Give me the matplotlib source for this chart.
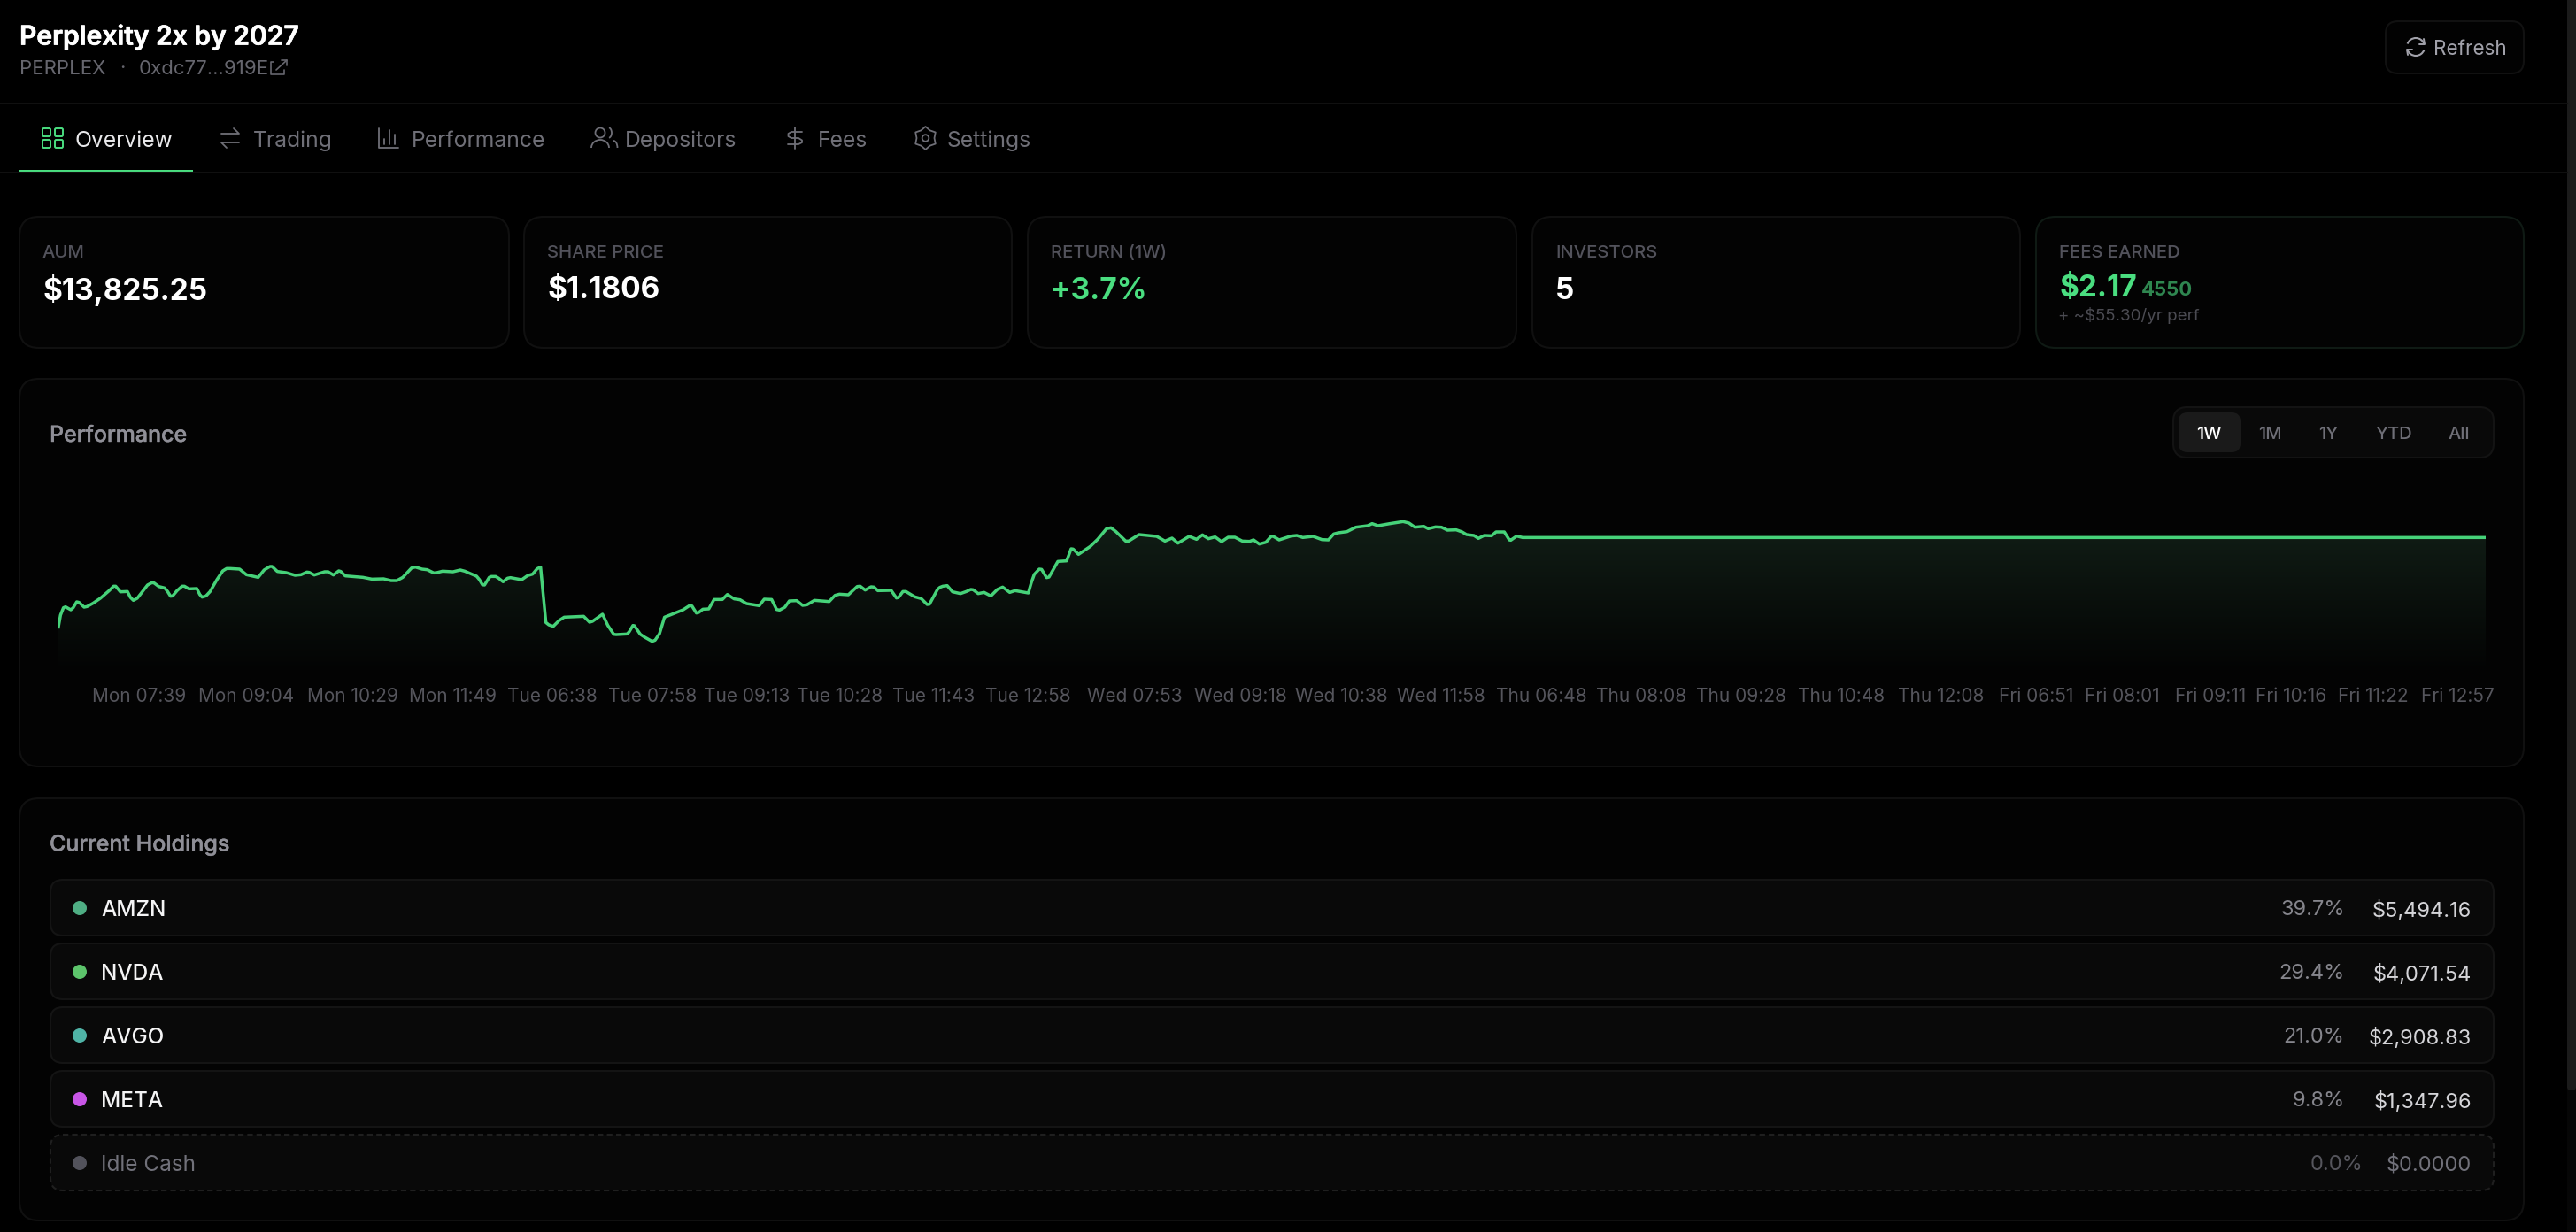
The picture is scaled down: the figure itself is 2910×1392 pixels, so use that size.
import numpy as np
import matplotlib
matplotlib.use("Agg")
import matplotlib.pyplot as plt
import matplotlib.patheffects as pe
from matplotlib.patches import FancyBboxPatch, Circle, Polygon, Arc, Rectangle
from matplotlib.colors import LinearSegmentedColormap

plt.rcParams['font.family'] = ['Inter', 'DejaVu Sans']

# performance line (position along the week, level on the chart)
perf_pos = [0, 7, 17, 24, 42, 50, 62, 70, 87, 97, 117, 142, 172, 187, 194, 210, 234, 244, 254, 267,
            287, 302, 317, 324, 340, 360, 370, 380, 387, 402, 419, 427, 442, 469, 479, 487, 500, 514, 537, 557,
            570, 582, 614, 637, 677, 697, 717, 724, 742, 772, 802, 822, 842, 850, 867, 902, 914, 932, 950, 957,
            972, 1032, 1062, 1102, 1127, 1147, 1167, 1197, 1210, 1232, 1250, 1272, 1282, 1302, 1337, 1362, 1377, 1417, 1427, 1437,
            1444, 1460, 1467, 1482, 1492, 1507, 1522, 1532, 1570, 1590, 1607, 1622, 1634, 1652, 1662, 1677, 1697, 1714, 1780, 1800,
            1810, 1844, 1862, 1882, 1890, 1927, 1934, 1947, 1952, 1972, 1987, 2012, 2022, 2037, 2054, 2072, 2117, 2140, 2147, 2162,
            2170, 2184, 2204, 2222, 2250, 2267, 2290, 2310, 2332, 2375, 2392, 2417, 2434, 2444, 2462, 2477, 2502, 2522, 2537, 2562,
            2612, 2632, 2647, 2677, 2707, 2717, 2734, 2754, 2764, 2777, 2822, 2840, 2847, 2862, 2872, 2902, 2924, 2944, 2952, 2979,
            2987, 2997, 3012, 3030, 3057, 3077, 3092, 3100, 3117, 3137, 3160, 3182, 3200, 3224, 3242, 3287, 3297, 3307, 3324, 3332,
            3349, 3357, 3387, 3417, 3432, 3439, 3457, 3497, 3522, 3552, 3567, 3584, 3617, 3627, 3662, 3722, 3750, 3774, 3794, 3832,
            3857, 3877, 3897, 3920, 3942, 3964, 3987, 4012, 4037, 4050, 4070, 4092, 4110, 4117, 4137, 4177, 4197, 4217, 4252, 4282,
            4304, 4322, 4337, 4367, 4397, 4437, 4452, 4472, 4512, 4557, 4577, 4597, 4627, 4642, 4667, 4687, 4707, 4737, 4757, 4772,
            4797, 4812, 4832, 4857, 4872, 4900, 4917, 4922, 4942, 4962, 8226]
perf_level = [245, 285, 310, 313, 303, 310, 330, 328, 312, 314, 325, 342, 368, 383, 383, 364, 365, 345, 335, 342,
              368, 387, 395, 394, 382, 377, 365, 349, 350, 368, 383, 383, 374, 375, 355, 346, 350, 365, 405, 435,
              443, 443, 441, 422, 413, 438, 450, 450, 433, 429, 420, 422, 431, 430, 421, 432, 432, 421, 435, 433,
              418, 413, 407, 408, 402, 402, 413, 445, 448, 441, 439, 428, 429, 434, 432, 438, 434, 417, 405, 388,
              387, 413, 416, 416, 410, 398, 410, 412, 405, 419, 424, 442, 448, 260, 252, 247, 267, 278, 281, 261,
              264, 288, 250, 220, 219, 221, 228, 250, 249, 220, 210, 196, 200, 222, 278, 285, 303, 318, 316, 292,
              294, 305, 306, 338, 338, 355, 340, 337, 324, 317, 339, 338, 304, 302, 312, 333, 334, 318, 320, 335,
              331, 352, 356, 354, 382, 383, 370, 381, 380, 368, 369, 343, 345, 365, 365, 347, 341, 321, 322, 372,
              379, 383, 385, 364, 358, 365, 372, 371, 358, 362, 350, 372, 380, 362, 368, 360, 395, 423, 441, 440,
              412, 414, 467, 469, 510, 509, 491, 518, 542, 578, 581, 568, 536, 536, 558, 552, 536, 546, 529, 552,
              542, 557, 544, 550, 534, 549, 549, 536, 535, 540, 526, 532, 552, 552, 540, 553, 555, 548, 552, 541,
              540, 560, 564, 568, 583, 588, 595, 588, 595, 602, 597, 583, 586, 578, 584, 583, 573, 574, 567, 558,
              555, 545, 555, 554, 567, 567, 540, 539, 553, 548, 548]

tick_pos = [273, 636, 996, 1335, 1674, 2013, 2334, 2649, 2967, 3285, 3646, 4005, 4347, 4686,
            5025, 5364, 5703, 6042, 6381, 6702, 6994, 7293, 7567, 7845, 8130]
tick_labels = ['Mon 07:39', 'Mon 09:04', 'Mon 10:29', 'Mon 11:49', 'Tue 06:38', 'Tue 07:58', 'Tue 09:13',
               'Tue 10:28', 'Tue 11:43', 'Tue 12:58', 'Wed 07:53', 'Wed 09:18', 'Wed 10:38', 'Wed 11:58',
               'Thu 06:48', 'Thu 08:08', 'Thu 09:28', 'Thu 10:48', 'Thu 12:08', 'Fri 06:51', 'Fri 08:01',
               'Fri 09:11', 'Fri 10:16', 'Fri 11:22', 'Fri 12:57']

holding_names = ['AMZN', 'NVDA', 'AVGO', 'META', 'Idle Cash']
holding_pct = ['39.7%', '29.4%', '21.0%', '9.8%', '0.0%']
holding_usd = ['$5,494.16', '$4,071.54', '$2,908.83', '$1,347.96', '$0.0000']
holding_colors = ['#4fae84', '#5cc46b', '#4fb3a6', '#c855e6', '#52525b']

tab_names = ['Overview', 'Trading', 'Performance', 'Depositors', 'Fees', 'Settings']
range_names = ['1W', '1M', '1Y', 'YTD', 'All']
card_labels = ['AUM', 'SHARE PRICE', 'RETURN (1W)', 'INVESTORS', 'FEES EARNED']
card_values = ['$13,825.25', '$1.1806', '+3.7%', '5', '$2.17']

GREEN = '#4ade80'
PANEL = '#030303'
W, H = 2910, 1392

fig = plt.figure(figsize=(W / 100, H / 100), dpi=100, facecolor='#000000')
ui = fig.add_axes([0, 0, 1, 1])
ui.set_xlim(0, W)
ui.set_ylim(H, 0)
ui.axis('off')


def box(x0, y0, x1, y1, r, fc, ec, lw=1.5, ls='-'):
    ui.add_patch(FancyBboxPatch((x0, y0), x1 - x0, y1 - y0, boxstyle=f'round,pad=0,rounding_size={r}',
                                fc=fc, ec=ec, lw=lw, ls=ls))


def label(x, y, s, size, color, weight=400, ha='left', heavy=0):
    t = ui.text(x, y, s, fontsize=size, color=color, fontweight=weight, ha=ha, va='center_baseline')
    if heavy:
        t.set_path_effects([pe.withStroke(linewidth=heavy, foreground=color)])


def stroke(xs, ys, color, lw=1.6):
    ui.plot(xs, ys, color=color, lw=lw, solid_capstyle='round', solid_joinstyle='round')


# scrollbar
ui.add_patch(Rectangle((2900, 0), 10, H, fc='#060606', ec='none'))
box(2900, -10, 2910, 1232, 4, '#1b1b1b', 'none', lw=0)

# header
label(22, 39, 'Perplexity 2x by 2027', 21.6, '#ffffff', 600, heavy=0.5)
label(22, 76, 'PERPLEX', 16, '#66666e')
label(138, 75, '·', 16, '#66666e', ha='center')
label(157, 76, '0xdc77...919E', 16, '#66666e')
stroke([309, 306, 306, 321, 321], [70, 70, 84, 84, 79], '#66666e', 1.2)
stroke([312, 324], [79, 68], '#66666e', 1.2)
stroke([318, 324, 324], [68, 68, 74], '#66666e', 1.2)

box(2695, 24, 2851, 83, 14, '#020202', '#111111')
label(2749, 54, 'Refresh', 16.2, '#a1a1aa')
ui.add_patch(Arc((2729, 53), 20, 20, theta1=200, theta2=340, ec='#a1a1aa', lw=1.5))
ui.add_patch(Arc((2729, 53), 20, 20, theta1=20, theta2=160, ec='#a1a1aa', lw=1.5))
stroke([2738, 2739, 2733], [44, 50, 50], '#a1a1aa', 1.4)
stroke([2720, 2719, 2725], [62, 56, 56], '#a1a1aa', 1.4)

ui.plot([0, 2900], [117, 117], color='#101010', lw=1.5)
ui.plot([0, 2900], [194.5, 194.5], color='#101010', lw=1.5)

# tabs
tab_x = [85, 286, 465, 706, 924, 1070]
for i, name in enumerate(tab_names):
    label(tab_x[i], 157, name, 17.8, '#e8e8ea' if i == 0 else '#6f6f77')
ui.add_patch(Rectangle((22, 191.5), 196, 3, fc=GREEN, ec='none'))

gr = '#6f6f77'
for gx, gy in [(48, 145), (62, 145), (48, 158), (62, 158)]:
    box(gx, gy, gx + 9, gy + 9, 1.5, 'none', GREEN, lw=1.4)
stroke([250, 270, 264], [151, 151, 145], gr, 1.3)
stroke([270, 250, 256], [161, 161, 167], gr, 1.3)
stroke([428, 428, 450], [145, 167, 167], gr, 1.3)
for bx, top in [(434, 157), (440, 147), (446, 152)]:
    stroke([bx, bx], [163, top], gr, 1.3)
ui.add_patch(Circle((678, 150), 5.5, fc='none', ec=gr, lw=1.3))
ui.add_patch(Arc((678, 167), 20, 18, theta1=180, theta2=360, ec=gr, lw=1.3))
ui.add_patch(Arc((687, 150), 8, 12, theta1=-80, theta2=80, ec=gr, lw=1.3))
ui.add_patch(Arc((693, 167), 9, 16, theta1=270, theta2=360, ec=gr, lw=1.3))
stroke([898, 898], [144, 168], gr, 1.3)
stroke([906, 894, 890.5, 890.5, 894, 902, 906, 906, 902, 890], [149, 149, 151, 154, 156, 156, 158.5, 161, 163, 163], gr, 1.3)
ang = np.linspace(0, 2 * np.pi, 13)[:-1]
rad = np.where(np.arange(12) % 2 == 0, 13, 10)
ui.add_patch(Polygon(np.column_stack([1045.5 + rad * np.sin(ang), 156 + rad * np.cos(ang)]), closed=True,
                     fc='none', ec=gr, lw=1.3, joinstyle='round'))
ui.add_patch(Circle((1045.5, 156), 3.8, fc='none', ec=gr, lw=1.3))

# stat cards
card_x = [(22, 575), (592, 1143), (1161, 1713), (1731, 2282), (2300, 2851)]
value_colors = ['#ffffff', '#ffffff', GREEN, '#ffffff', GREEN]
for i, (x0, x1) in enumerate(card_x):
    box(x0, 245, x1, 393, 22, PANEL, '#0f1a14' if i == 4 else '#101010')
    label(x0 + 26, 284, card_labels[i], 14.6, '#52525b', 500)
    label(x0 + 26, 325 if i < 4 else 323, card_values[i], 24, value_colors[i], 700)
label(2419, 326, '4550', 16, '#2f8650', 700)
label(2325, 355, '+ ~$55.30/yr perf', 13.5, '#4b4b52')

# chart panel
box(22, 428, 2851, 866, 22, PANEL, '#101010')
label(56, 490, 'Performance', 18, '#8f8f97', 500, heavy=0.3)
box(2455, 460, 2817, 517, 16, '#090909', '#131313')
box(2461, 466, 2531, 511, 10, '#1a1a1a', 'none', lw=0)
range_x = [2495.5, 2564, 2630.5, 2704, 2778]
for i, name in enumerate(range_names):
    label(range_x[i], 489, name, 14.5, '#ffffff' if i == 0 else '#6f6f77', 500, ha='center')

# holdings panel
box(22, 902, 2851, 1379, 22, PANEL, '#101010')
label(56, 952, 'Current Holdings', 18, '#8f8f97', 500, heavy=0.3)
for i, name in enumerate(holding_names):
    top = 994 + 72 * i
    idle = name == 'Idle Cash'
    box(57, top, 2817, top + 63, 14, '#090909', '#1f1f1f' if idle else '#141414', ls=(0, (3, 2)) if idle else '-')
    cy = top + 32
    ui.add_patch(Circle((90, cy), 8, fc=holding_colors[i], ec='none'))
    label(114, cy, name, 17.5, '#71717a' if idle else '#f4f4f5', 500 if not idle else 400)
    label(2669 if idle else 2648.5, cy, holding_pct[i], 17, '#55555c' if idle else '#85858c', ha='right')
    label(2792, cy, holding_usd[i], 17, '#71717a' if idle else '#d4d4d8', ha='right')

# performance chart
pos = np.array(perf_pos)
lvl = np.array(perf_level)
ax = fig.add_axes([66 / W, 1 - 760 / H, (2808 - 66) / W, 190 / H])
ax.patch.set_alpha(0)
for s in ax.spines.values():
    s.set_visible(False)
ax.set_yticks([])

fade = LinearSegmentedColormap.from_list('fade', [PANEL, '#111e16'])
grad = np.linspace(1, 0, 256).reshape(-1, 1)
im = ax.imshow(grad, extent=[0, 8226, 90, 602], aspect='auto', cmap=fade, vmin=0, vmax=1, zorder=1)
ax.set_xlim(0, 8226)
ax.set_ylim(90, 660)
ax.set_xticks(tick_pos, tick_labels)
ax.tick_params(axis='x', length=0, pad=12, labelsize=15, labelcolor='#55555c')
im.set_clip_path(Polygon(np.vstack([np.column_stack([pos, lvl]), [8226, 90], [0, 90]]), closed=True,
                         transform=ax.transData))
ax.plot(pos, lvl, color=GREEN, lw=2.5, solid_joinstyle='round', zorder=2, alpha=0.95)

fig.savefig('out.png', dpi=100, facecolor=fig.get_facecolor())
